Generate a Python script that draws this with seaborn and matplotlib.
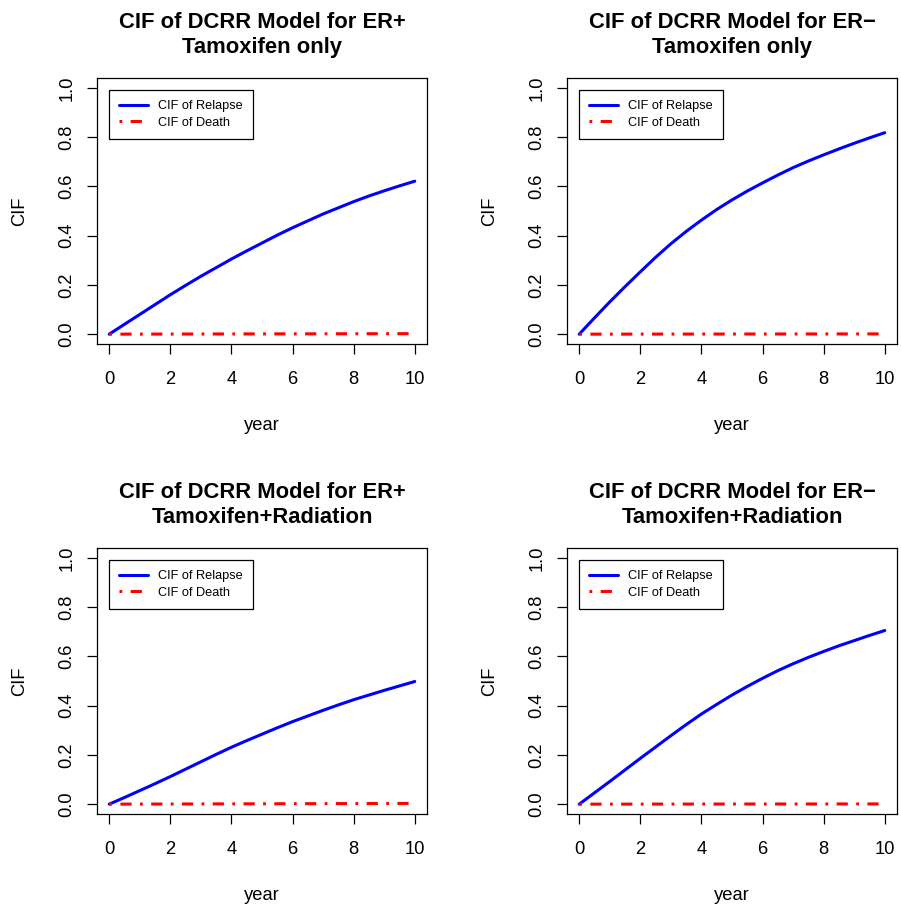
import numpy as np
import pandas as pd
import matplotlib
matplotlib.use("Agg")
import matplotlib.pyplot as plt
import seaborn as sns

sns.set_theme(style="white")
plt.rcParams["font.family"] = ["Liberation Sans", "DejaVu Sans"]
plt.rcParams.update({
    "text.color": "black",
    "axes.labelcolor": "black",
    "xtick.color": "black",
    "ytick.color": "black",
})

# Follow-up time grid (years)
years = [0, 0.5, 1, 1.5, 2, 2.5, 3, 3.5, 4, 4.5, 5,
         5.5, 6, 6.5, 7, 7.5, 8, 8.5, 9, 9.5, 10]

# Cumulative incidence of relapse for each group
relapse_erpos_tam = [0.0, 0.040, 0.080, 0.120, 0.160, 0.198, 0.235, 0.270, 0.305, 0.338, 0.370,
                     0.402, 0.432, 0.460, 0.488, 0.513, 0.538, 0.561, 0.582, 0.602, 0.621]
relapse_erneg_tam = [0.0, 0.066, 0.131, 0.193, 0.253, 0.312, 0.367, 0.417, 0.463, 0.506, 0.545,
                     0.581, 0.614, 0.646, 0.676, 0.703, 0.728, 0.752, 0.775, 0.797, 0.818]
relapse_erpos_tamrad = [0.0, 0.027, 0.055, 0.083, 0.112, 0.142, 0.172, 0.202, 0.231, 0.258, 0.284,
                        0.310, 0.335, 0.358, 0.381, 0.403, 0.424, 0.443, 0.462, 0.480, 0.498]
relapse_erneg_tamrad = [0.0, 0.046, 0.092, 0.139, 0.186, 0.232, 0.278, 0.323, 0.366, 0.405, 0.443,
                        0.478, 0.511, 0.542, 0.570, 0.596, 0.620, 0.643, 0.664, 0.685, 0.705]

# Cumulative incidence of death for each group (yearly)
death_years = [0, 1, 2, 3, 4, 5, 6, 7, 8, 9, 10]
death_erpos_tam = [0.0, 0.0002, 0.0004, 0.0006, 0.0008, 0.0010, 0.0012, 0.0014, 0.0016, 0.0018, 0.0020]
death_erneg_tam = [0.0, 0.0001, 0.0002, 0.0003, 0.0004, 0.0005, 0.0006, 0.0007, 0.0008, 0.0009, 0.0010]
death_erpos_tamrad = [0.0, 0.0003, 0.0006, 0.0009, 0.0012, 0.0015, 0.0018, 0.0021, 0.0024, 0.0027, 0.0030]
death_erneg_tamrad = [0.0, 0.0001, 0.0002, 0.0003, 0.0004, 0.0005, 0.0006, 0.0007, 0.0008, 0.0009, 0.0010]

titles = [
    "CIF of DCRR Model for ER+\nTamoxifen only",
    "CIF of DCRR Model for ER\u2212\nTamoxifen only",
    "CIF of DCRR Model for ER+\nTamoxifen+Radiation",
    "CIF of DCRR Model for ER\u2212\nTamoxifen+Radiation",
]
relapse = [relapse_erpos_tam, relapse_erneg_tam, relapse_erpos_tamrad, relapse_erneg_tamrad]
death = [death_erpos_tam, death_erneg_tam, death_erpos_tamrad, death_erneg_tamrad]

x_ticks = [0, 2, 4, 6, 8, 10]
y_ticks = [0.0, 0.2, 0.4, 0.6, 0.8, 1.0]
y_ticklabels = ["0.0", "0.2", "0.4", "0.6", "0.8", "1.0"]

W, H = 901, 905
fig = plt.figure(figsize=(W / 100, H / 100), dpi=100)
fig.patch.set_facecolor("white")

# panel boxes in pixel coordinates: (left, top, right, bottom)
boxes = [(97, 78, 427, 344), (567, 78, 897, 344),
         (97, 548, 427, 814), (567, 548, 897, 814)]

base = 13.2
lw = 2.2
dash_pt = (2.0, 6.05, 8.06, 6.05)
dashes = [d / lw for d in dash_pt]

for i in range(4):
    l, t, r, b = boxes[i]
    ax = fig.add_axes([l / W, 1 - b / H, (r - l) / W, (b - t) / H])
    rel_df = pd.DataFrame({"year": years, "cif": relapse[i]})
    dth_df = pd.DataFrame({"year": death_years, "cif": death[i]})
    sns.lineplot(data=rel_df, x="year", y="cif", ax=ax, color="#0000FF",
                 linewidth=lw, label="CIF of Relapse")
    sns.lineplot(data=dth_df, x="year", y="cif", ax=ax, color="#FF0000",
                 linewidth=lw, label="CIF of Death")
    ax.lines[-1].set_dashes(dashes)

    ax.set_xlim(-0.4, 10.4)
    ax.set_ylim(-0.04, 1.04)
    ax.set_xticks(x_ticks)
    ax.set_xticklabels([str(v) for v in x_ticks])
    ax.set_yticks(y_ticks)
    ax.set_yticklabels(y_ticklabels, rotation=90, va="center")
    ax.tick_params(axis="both", direction="out", length=7.5, width=0.9,
                   color="black", labelsize=base, labelcolor="black")
    ax.tick_params(axis="x", pad=11.8)
    ax.tick_params(axis="y", pad=8.2)
    ax.xaxis.set_ticks_position("bottom")
    ax.yaxis.set_ticks_position("left")
    for s in ax.spines.values():
        s.set_visible(True)
        s.set_color("black")
        s.set_linewidth(0.9)

    ax.set_xlabel("year", fontsize=base, labelpad=21)
    ax.set_ylabel("CIF", fontsize=base, labelpad=21.5)
    ax.set_title(titles[i], fontsize=15.8, fontweight="bold", pad=18,
                 linespacing=1.23, color="black")

    leg = ax.legend(loc="upper left", bbox_to_anchor=(0, 0.992),
                    bbox_transform=ax.transData, borderaxespad=0,
                    fontsize=9.2, frameon=True, fancybox=False,
                    framealpha=1, edgecolor="black", handlelength=2.24,
                    handletextpad=0.76, borderpad=0.8, labelspacing=0.38)
    leg.get_frame().set_linewidth(0.9)

fig.savefig("out.png", dpi=100, facecolor="white")
